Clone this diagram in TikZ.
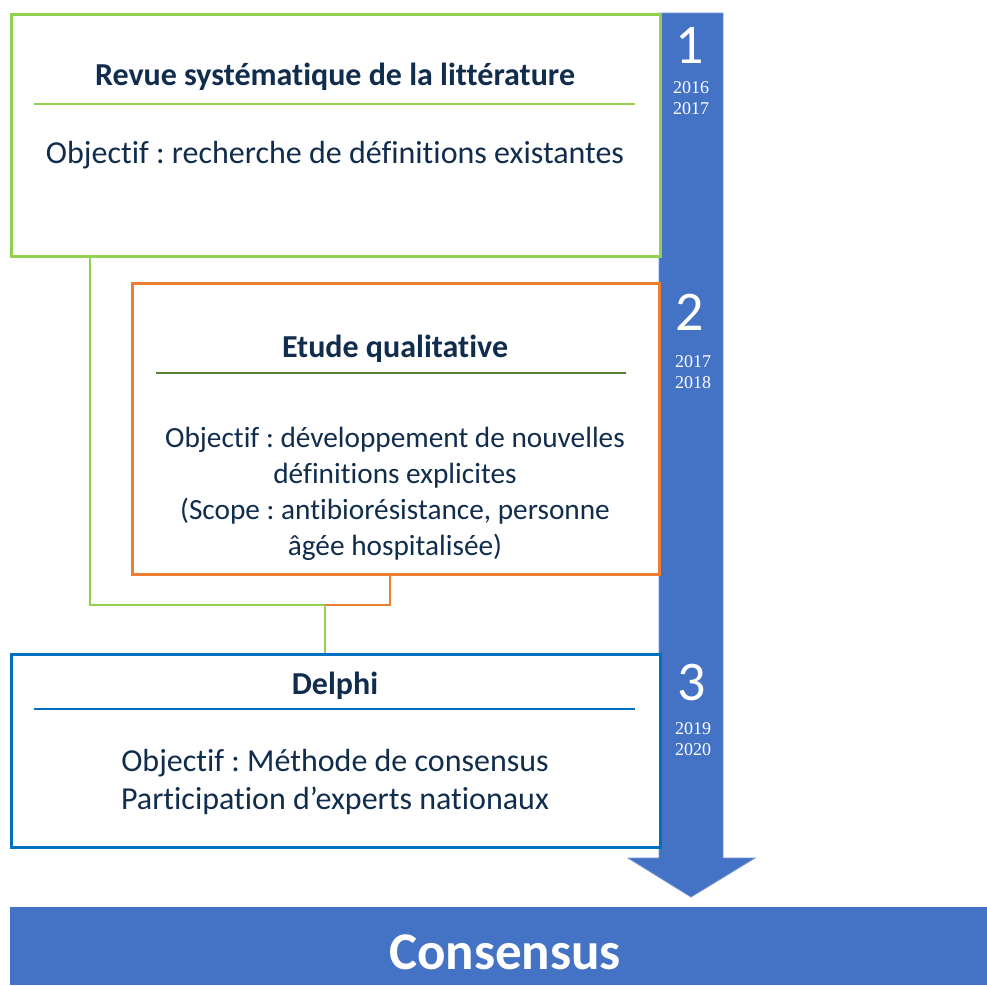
\documentclass[tikz,border=0pt]{standalone}
\usepackage{fontspec}
\setmainfont{Carlito}[Ligatures=CommonOff]
\newfontfamily\yearfont{Liberation Serif}
\usetikzlibrary{calc}
\frenchspacing
\definecolor{cgreen}{HTML}{92D050}
\definecolor{corange}{HTML}{ED7D31}
\definecolor{cdkgreen}{HTML}{548235}
\definecolor{cblue}{HTML}{0070C0}
\definecolor{cbar}{HTML}{4472C4}
\definecolor{cbaredge}{HTML}{7093D4}
\definecolor{ctext}{HTML}{112D4E}
\tikzset{
  stage/.style={draw, line width=2.5pt, fill=white, inner sep=0pt},
  ttl/.style={font=\bfseries\fontsize{32}{36}\selectfont, text=ctext, inner sep=0pt},
  body/.style={font=\fontsize{32}{36}\selectfont, text=ctext, align=center, inner sep=0pt},
  num/.style={font=\fontsize{56}{60}\selectfont, text=white, inner sep=0pt},
  yr/.style={font=\yearfont\fontsize{18}{21}\selectfont, text=white, align=center, inner sep=0pt},
  sep/.style={line width=2.5pt},
  conn/.style={line width=2.5pt}
}
\begin{document}
\begin{tikzpicture}[x=1pt,y=-1pt]
\useasboundingbox (0,0) rectangle (987,985);
% timeline arrow
\fill[cbar, draw=cbaredge, line width=0.8pt] (659,13) -- (723,13) -- (723,858) -- (755,858) -- (691,897) -- (628,858) -- (659,858) -- cycle;
% boxes
\node[stage, draw=cgreen, minimum width=649pt, minimum height=242pt, anchor=north west] (box1) at (10,13) {};
\node[stage, draw=corange, minimum width=527pt, minimum height=291pt, anchor=north west] (box2) at (131,282) {};
\node[stage, draw=cblue, minimum width=649pt, minimum height=193pt, anchor=north west] (box3) at (10,653) {};
% box 1 content
\node[ttl] (t1) at (335,77) {Revue systématique de la littérature};
\draw[sep, cgreen] (34,104) -- (635,104);
\node[body] (b1) at (335,155) {Objectif : recherche de définitions existantes};
% box 2 content
\node[ttl] (t2) at (395,349) {Etude qualitative};
\draw[sep, cdkgreen] (156,373) -- (626,373);
\node[body, font=\fontsize{29.3}{36}\selectfont] (b2) at (395,494) {Objectif : développement de nouvelles\\définitions explicites\\(Scope : antibiorésistance, personne\\âgée hospitalisée)};
% box 3 content
\node[ttl] (t3) at (335,686) {Delphi};
\draw[sep, cblue] (34,709) -- (635,709);
\node[body, font=\fontsize{32}{38}\selectfont] (b3) at (335,782) {Objectif : Méthode de consensus\\Participation d’experts nationaux};
% connectors
\coordinate (j) at (325,605);
\draw[conn, cgreen] ($(box1.south west)+(80,0)$) |- (j);
\draw[conn, corange] ($(box2.south west)+(259,0)$) |- (j);
\draw[conn, cgreen] (j) -- (box3.north -| j);
% numbers and years
\node[num] (n1) at (690,45) {1};
\node[yr] (y1) at (691,98) {2016\\2017};
\node[num] (n2) at (690,312) {2};
\node[yr] (y2) at (693,372) {2017\\2018};
\node[num] (n3) at (692,683) {3};
\node[yr] (y3) at (693,739) {2019\\2020};
% consensus bar
\node[fill=cbar, minimum width=977pt, minimum height=78pt, inner sep=0pt, anchor=north west] (cons) at (10,907) {};
\node[text=white, font=\bfseries\fontsize{53}{60}\selectfont, inner sep=0pt] (ctxt) at (505,952) {Consensus};
\end{tikzpicture}
\end{document}
